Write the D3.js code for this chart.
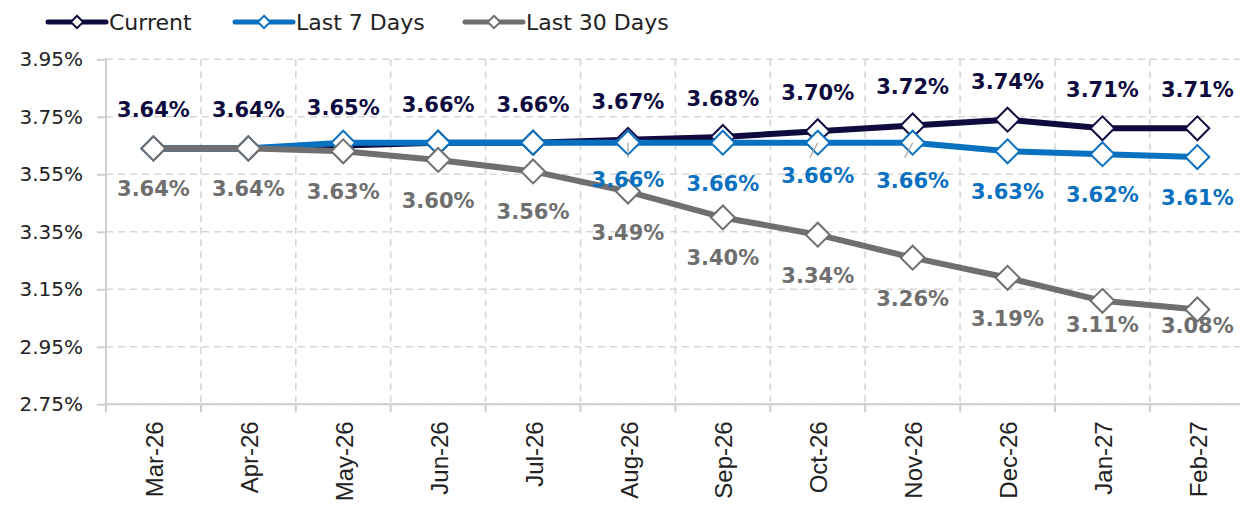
<!DOCTYPE html>
<html>
<head>
<meta charset="utf-8">
<script src="https://cdn.jsdelivr.net/npm/d3@7"></script>
<style>
  html, body { margin: 0; padding: 0; background: #fff; }
  svg { display: block; }
</style>
</head>
<body>
<svg id="chart" width="1240" height="508"></svg>
<script>
// Forward-rate curve: current vs. averages over the last 7 and 30 days
const months = ["Mar-26", "Apr-26", "May-26", "Jun-26", "Jul-26", "Aug-26",
                "Sep-26", "Oct-26", "Nov-26", "Dec-26", "Jan-27", "Feb-27"];
const current = [3.64, 3.64, 3.65, 3.66, 3.66, 3.67, 3.68, 3.70, 3.72, 3.74, 3.71, 3.71];
const last7   = [3.64, 3.64, 3.66, 3.66, 3.66, 3.66, 3.66, 3.66, 3.66, 3.63, 3.62, 3.61];
const last30  = [3.64, 3.64, 3.63, 3.60, 3.56, 3.49, 3.40, 3.34, 3.26, 3.19, 3.11, 3.08];
const yTicks  = [2.75, 2.95, 3.15, 3.35, 3.55, 3.75, 3.95];
const seriesNames = ["Current", "Last 7 Days", "Last 30 Days"];

const svg = d3.select("#chart");
const plotLeft = 106, plotTop = 59.3, plotBottom = 404.3;
const step = 94.9;
const plotRight = plotLeft + step * months.length;

const FONT = "'DejaVu Sans', sans-serif";
const colors = { navy: "#0e0b3f", blue: "#0a70c0", grey: "#6f6f6f" };

const x = d3.scaleBand().domain(months).range([plotLeft, plotRight]).padding(0);
const cx = m => x(m) + x.bandwidth() / 2;
const y = d3.scaleLinear().domain([2.75, 3.95]).range([plotBottom, plotTop]);

// dashed grid
const grid = svg.append("g");
grid.selectAll("line.h").data(yTicks).join("line")
  .attr("class", "h")
  .attr("x1", plotLeft).attr("x2", plotRight)
  .attr("y1", d => y(d)).attr("y2", d => y(d))
  .attr("stroke", "#d6d6d6").attr("stroke-width", 1.6)
  .attr("stroke-dasharray", "7,5");
grid.selectAll("line.v").data(months.slice(1)).join("line")
  .attr("class", "v")
  .attr("x1", d => x(d)).attr("x2", d => x(d))
  .attr("y1", plotTop).attr("y2", plotBottom)
  .attr("stroke", "#d6d6d6").attr("stroke-width", 1.6)
  .attr("stroke-dasharray", "7,5");

// y axis
const yAxis = d3.axisLeft(y).tickValues(yTicks).tickSize(9).tickPadding(14)
  .tickFormat(d => d3.format(".2f")(d) + "%");
const gy = svg.append("g").attr("transform", `translate(${plotLeft},0)`).call(yAxis);
gy.select(".domain").remove();
gy.selectAll(".tick line").attr("stroke", "#cfcfcf").attr("stroke-width", 2);
gy.selectAll(".tick text").attr("font-family", FONT).attr("font-size", 20)
  .attr("fill", "#222");
svg.append("line").attr("x1", plotLeft).attr("x2", plotLeft)
  .attr("y1", plotTop - 1).attr("y2", plotBottom + 8)
  .attr("stroke", "#cfcfcf").attr("stroke-width", 2);

// x axis with ticks at category boundaries
svg.append("line").attr("x1", plotLeft).attr("x2", plotRight)
  .attr("y1", plotBottom).attr("y2", plotBottom)
  .attr("stroke", "#cfcfcf").attr("stroke-width", 2);
svg.append("g").selectAll("line").data(months.slice(1)).join("line")
  .attr("x1", d => x(d)).attr("x2", d => x(d))
  .attr("y1", plotBottom).attr("y2", plotBottom + 8)
  .attr("stroke", "#cfcfcf").attr("stroke-width", 2);
svg.append("g").selectAll("text").data(months).join("text")
  .attr("transform", d => `translate(${cx(d) + 1},${plotBottom + 17}) rotate(-90)`)
  .attr("text-anchor", "end").attr("dy", "0.36em")
  .attr("font-family", "'Liberation Sans', Arial, sans-serif").attr("font-size", 24)
  .attr("fill", "#222")
  .text(d => d);

// lines + diamond markers
const line = d3.line().x((d, i) => cx(months[i])).y(d => y(d));
const diamond = d3.symbol().type(d3.symbolDiamond2).size(2 * 13.5 * 13.5);

function drawSeries(values, color) {
  const g = svg.append("g");
  g.append("path").datum(values).attr("d", line)
    .attr("fill", "none").attr("stroke", color).attr("stroke-width", 6)
    .attr("stroke-linejoin", "round");
  g.selectAll("path.m").data(values).join("path")
    .attr("class", "m")
    .attr("d", diamond)
    .attr("transform", (d, i) => `translate(${cx(months[i])},${y(d)})`)
    .attr("fill", "#fff").attr("stroke", color).attr("stroke-width", 2);
}
drawSeries(current, colors.navy);
drawSeries(last7, colors.blue);
drawSeries(last30, colors.grey);

// value labels
const fmt = d => d3.format(".2f")(d) + "%";
function labels(values, color, offset, shown, nudge) {
  svg.append("g").selectAll("text").data(values.map((v, i) => ({ v, i })).filter(d => shown(d.i)))
    .join("text")
    .attr("x", d => cx(months[d.i]))
    .attr("y", d => y(d.v) + offset + (nudge[d.i] || 0))
    .attr("text-anchor", "middle")
    .attr("font-family", FONT).attr("font-weight", "bold").attr("font-size", 21)
    .attr("fill", color)
    .text(d => fmt(d.v));
}

// short leader lines for the displaced labels
const leaderIdx = [5, 7, 8];
svg.append("g").selectAll("line").data(leaderIdx).join("line")
  .attr("x1", i => cx(months[i])).attr("y1", i => y(last7[i]))
  .attr("x2", (i, k) => cx(months[i]) - (k === 0 ? 0 : 8)).attr("y2", i => y(last7[i]) + 15)
  .attr("stroke", "#a0a0a0").attr("stroke-width", 1.2);

labels(current, colors.navy, -31, () => true, {});
labels(last7, colors.blue, 48, i => i >= 5, { 5: -4, 7: -8, 8: -3 });
labels(last30, colors.grey, 48, () => true, { 10: -17, 11: -24 });

// legend
const legendItems = [
  { name: seriesNames[0], color: colors.navy, x0: 48 },
  { name: seriesNames[1], color: colors.blue, x0: 235 },
  { name: seriesNames[2], color: colors.grey, x0: 465 }
];
const lg = svg.append("g").selectAll("g").data(legendItems).join("g")
  .attr("transform", d => `translate(${d.x0},22)`);
lg.append("line").attr("x1", 0).attr("x2", 58).attr("y1", 0).attr("y2", 0)
  .attr("stroke", d => d.color).attr("stroke-width", 5).attr("stroke-linecap", "round");
lg.append("path").attr("d", d3.symbol().type(d3.symbolDiamond2).size(2 * 7 * 7))
  .attr("transform", "translate(29,0)")
  .attr("fill", "#fff").attr("stroke", d => d.color).attr("stroke-width", 2);
lg.append("text").attr("x", 61).attr("dy", "0.36em")
  .attr("font-family", FONT).attr("font-size", 22).attr("fill", "#222")
  .text(d => d.name);
</script>
</body>
</html>
